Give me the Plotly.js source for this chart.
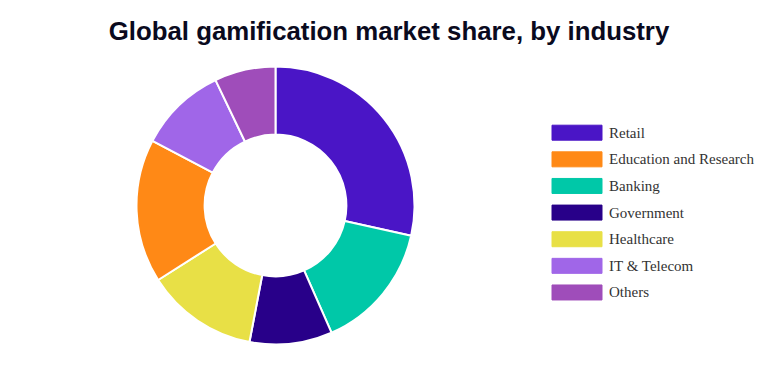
<!DOCTYPE html>
<html>
<head>
<meta charset="utf-8">
<script src="https://cdn.plot.ly/plotly-3.0.1.min.js"></script>
<style>html,body{margin:0;padding:0;background:#fff;}#chart{width:778px;height:387px;}</style>
</head>
<body>
<div id="chart"></div>
<script>
// Slice order (clockwise from 12 o'clock)
var sliceLabels = ["Retail", "Banking", "Government", "Healthcare", "Education and Research", "IT & Telecom", "Others"];
var sliceValues = [28.5, 14.9, 9.6, 13.0, 16.7, 10.2, 7.1];
var sliceColors = ["#4a15c6", "#00c8a8", "#280089", "#e8e046", "#ff8916", "#a066e8", "#9f4dba"];

// Legend order as shown in the reference
var legendLabels = ["Retail", "Education and Research", "Banking", "Government", "Healthcare", "IT & Telecom", "Others"];

var titleText = "Global gamification market share, by industry";

var W = 778, H = 387;

var trace = {
  type: "pie",
  labels: sliceLabels,
  values: sliceValues,
  hole: 0.51,
  sort: false,
  direction: "clockwise",
  rotation: 0,
  textinfo: "none",
  hoverinfo: "label+percent",
  showlegend: false,
  marker: {colors: sliceColors, line: {color: "#ffffff", width: 2}},
  domain: {x: [136.5 / W, 414.5 / W], y: [1 - 344.5 / H, 1 - 66.5 / H]}
};

var shapes = [];
var annotations = [];
var rowTop = 132.7, rowStep = 26.63;
legendLabels.forEach(function (lab, i) {
  var col = sliceColors[sliceLabels.indexOf(lab)];
  var yc = rowTop + i * rowStep;
  shapes.push({
    type: "rect", xref: "paper", yref: "paper",
    x0: 552 / W, x1: 602 / W,
    y0: 1 - (yc - 7.5) / H, y1: 1 - (yc + 7.5) / H,
    fillcolor: col, line: {color: col, width: 1}, opacity: 1
  });
  annotations.push({
    xref: "paper", yref: "paper",
    x: 607 / W, y: 1 - yc / H,
    xanchor: "left", yanchor: "middle",
    text: lab, showarrow: false,
    font: {family: "Liberation Serif, Times New Roman, serif", size: 15, color: "#333333"}
  });
});

var layout = {
  width: W, height: H,
  margin: {l: 0, r: 0, t: 0, b: 0},
  paper_bgcolor: "#ffffff",
  title: {
    text: "<b>" + titleText + "</b>",
    font: {family: "Liberation Sans, Arial, sans-serif", size: 25.8, color: "#0a0a1e"},
    x: 0.5, xanchor: "center",
    y: 1 - 31 / H, yanchor: "middle", yref: "container"
  },
  shapes: shapes,
  annotations: annotations
};

Plotly.newPlot("chart", [trace], layout, {displayModeBar: false, responsive: false});
</script>
</body>
</html>
